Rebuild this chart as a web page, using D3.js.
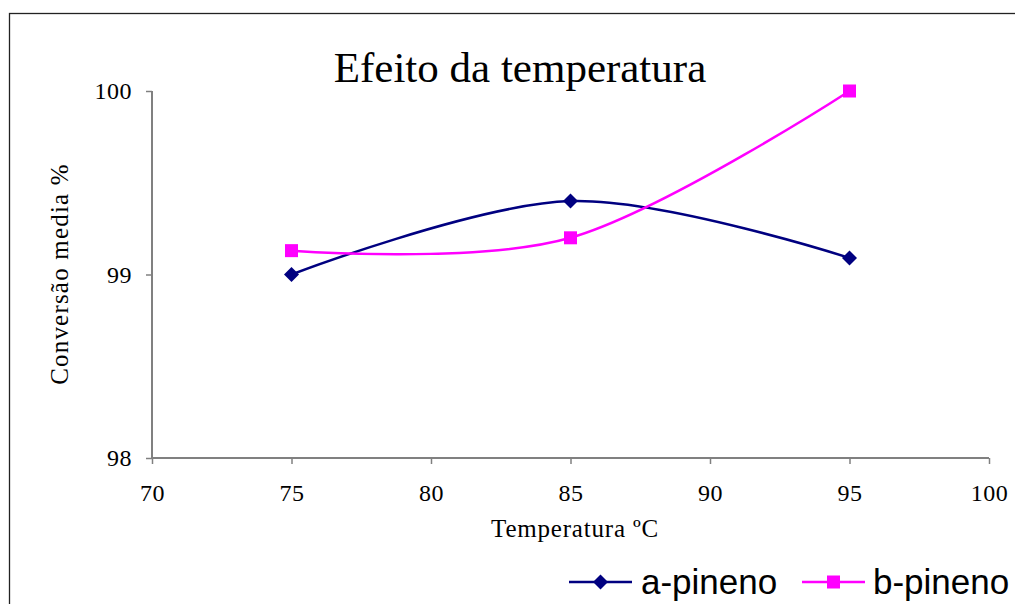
<!DOCTYPE html>
<html>
<head>
<meta charset="utf-8">
<script src="https://cdn.jsdelivr.net/npm/d3@7"></script>
<style>
  html, body { margin: 0; padding: 0; background: #fff; }
  svg { display: block; }
</style>
</head>
<body>
<svg id="chart" width="1015" height="604"></svg>
<script>
// Temperatures (ºC) and mean conversion (%) for each pinene isomer
const temperatures = [75, 85, 95];
const aPineno = [99.0, 99.4, 99.09];
const bPineno = [99.13, 99.2, 100.0];
const xTicks = [70, 75, 80, 85, 90, 95, 100];
const yTicks = [98, 99, 100];
const seriesNames = ["a-pineno", "b-pineno"];
const seriesColors = ["#000080", "#FF00FF"];

const svg = d3.select("#chart");
const W = 1015, H = 604;
const plot = { left: 152, right: 989, top: 91, bottom: 458 };

// outer chart frame
svg.append("rect")
  .attr("x", 9.5).attr("y", 13.5)
  .attr("width", W + 20).attr("height", H + 20)
  .attr("fill", "#fff").attr("stroke", "#222").attr("stroke-width", 1.3);

const x = d3.scaleLinear().domain([70, 100]).range([plot.left, plot.right]);
const y = d3.scaleLinear().domain([98, 100]).range([plot.bottom, plot.top]);

const serif = "Liberation Serif, Times New Roman, serif";

// axes
const xAxis = svg.append("g")
  .attr("transform", `translate(0,${plot.bottom})`)
  .call(d3.axisBottom(x).tickValues(xTicks).tickSize(6).tickPadding(20).tickFormat(d3.format("d")));
const yAxis = svg.append("g")
  .attr("transform", `translate(${plot.left},0)`)
  .call(d3.axisLeft(y).tickValues(yTicks).tickSize(6).tickPadding(14).tickFormat(d3.format("d")));

[xAxis, yAxis].forEach(g => {
  g.attr("font-family", serif).attr("font-size", 24);
  g.select(".domain").attr("stroke", "#808080").attr("stroke-width", 2);
  g.selectAll(".tick line").attr("stroke", "#808080").attr("stroke-width", 1.5);
  g.selectAll(".tick text")
    .attr("fill", "#000")
    .attr("font-family", serif)
    .attr("font-size", 24)
    .style("letter-spacing", "0.5px");
});
// flat domain lines without end caps
xAxis.select(".domain").attr("d", `M${plot.left},0H${plot.right}`);
yAxis.select(".domain").attr("d", `M0,${plot.bottom}V${plot.top}`);

// title
svg.append("text")
  .attr("x", 520).attr("y", 82)
  .attr("text-anchor", "middle")
  .attr("font-family", serif).attr("font-size", 43)
  .text("Efeito da temperatura");

// axis titles
svg.append("text")
  .attr("x", 575).attr("y", 537)
  .attr("text-anchor", "middle")
  .attr("font-family", serif).attr("font-size", 25)
  .style("letter-spacing", "0.8px")
  .text("Temperatura ºC");

svg.append("text")
  .attr("transform", `translate(68,274) rotate(-90)`)
  .attr("text-anchor", "middle")
  .attr("font-family", serif).attr("font-size", 25)
  .style("letter-spacing", "1.2px")
  .text("Conversão media %");

// series lines (smoothed) and markers
const series = [aPineno, bPineno].map((vals, i) => ({
  name: seriesNames[i],
  color: seriesColors[i],
  points: temperatures.map((t, j) => ({ t, v: vals[j] }))
}));

const line = d3.line()
  .x(d => x(d.t)).y(d => y(d.v))
  .curve(d3.curveCardinal.tension(0));

const diamond = s => `M0,${-s}L${s},0L0,${s}L${-s},0Z`;

series.forEach((s, i) => {
  svg.append("path")
    .datum(s.points)
    .attr("d", line)
    .attr("fill", "none")
    .attr("stroke", s.color)
    .attr("stroke-width", 2.5);

  const g = svg.append("g");
  s.points.forEach(p => {
    if (i === 0) {
      g.append("path")
        .attr("transform", `translate(${x(p.t)},${y(p.v)})`)
        .attr("d", diamond(7.5))
        .attr("fill", s.color);
    } else {
      g.append("rect")
        .attr("x", x(p.t) - 6.5).attr("y", y(p.v) - 6.5)
        .attr("width", 13).attr("height", 13)
        .attr("fill", s.color);
    }
  });
});

// legend
const legendItems = [
  { x0: 569, x1: 632, tx: 641 },
  { x0: 802, x1: 865, tx: 873 }
];
const ly = 582;
series.forEach((s, i) => {
  const L = legendItems[i];
  svg.append("line")
    .attr("x1", L.x0).attr("x2", L.x1).attr("y1", ly).attr("y2", ly)
    .attr("stroke", s.color).attr("stroke-width", 2.5);
  const cx = (L.x0 + L.x1) / 2;
  if (i === 0) {
    svg.append("path").attr("transform", `translate(${cx},${ly})`)
      .attr("d", diamond(7.5)).attr("fill", s.color);
  } else {
    svg.append("rect").attr("x", cx - 6.5).attr("y", ly - 6.5)
      .attr("width", 13).attr("height", 13).attr("fill", s.color);
  }
  svg.append("text")
    .attr("x", L.tx).attr("y", 594)
    .attr("font-family", "Liberation Sans, Arial, sans-serif")
    .attr("font-size", 35)
    .text(s.name);
});
</script>
</body>
</html>
